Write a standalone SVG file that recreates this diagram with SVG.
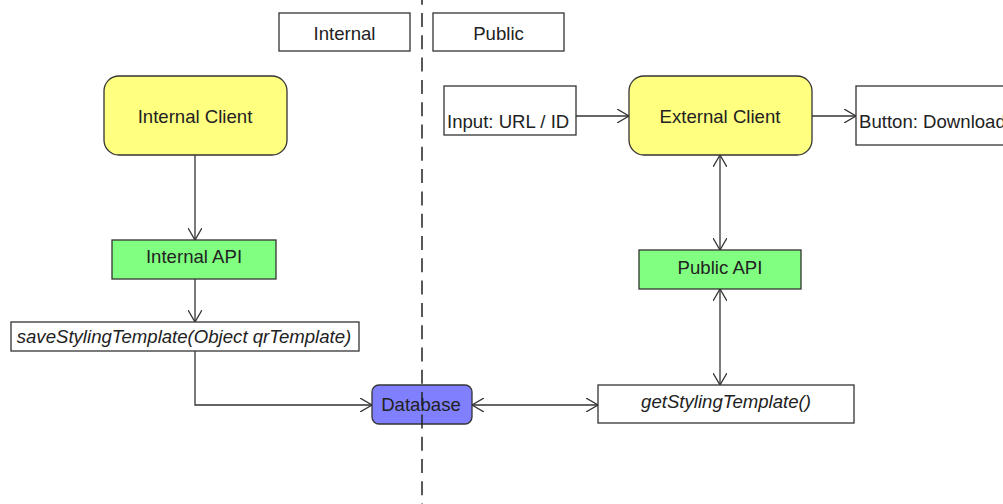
<svg xmlns="http://www.w3.org/2000/svg" width="1003" height="504" viewBox="0 0 1003 504">
<style>
.box{stroke:#333;stroke-width:1.3;}
.w{fill:#fff;}
.y{fill:#ffff80;}
.g{fill:#80ff80;}
.b{fill:#8080ff;}
text{font-family:"Liberation Sans",Arial,sans-serif;font-size:18.6px;fill:#222;}
.c{text-anchor:middle;}
.i{font-style:italic;}
.con{fill:none;stroke:#333;stroke-width:1.3;}
</style>
<defs>
<marker id="ah" viewBox="0 0 12 14" refX="12" refY="7" markerWidth="12" markerHeight="14" markerUnits="userSpaceOnUse" orient="auto-start-reverse">
<path d="M0,0 L12,7 L0,14" fill="none" stroke="#333" stroke-width="1.3"/>
</marker>
</defs>
<rect width="1003" height="504" fill="#fff"/>
<g id="label-internal"><rect class="box w" x="279" y="13" width="131" height="38"/><text class="c" x="344.5" y="40">Internal</text></g>
<g id="label-public"><rect class="box w" x="433" y="13" width="131" height="38"/><text class="c" x="498.5" y="40">Public</text></g>
<g id="internal-client"><rect class="box y" x="104" y="76" width="183" height="79" rx="15"/><text class="c" x="195" y="123">Internal Client</text></g>
<g id="external-client"><rect class="box y" x="629" y="76" width="183" height="79" rx="15"/><text class="c" x="720" y="123">External Client</text></g>
<g id="input"><rect class="box w" x="444" y="86" width="132" height="49"/><text x="447" y="128">Input: URL / ID</text></g>
<g id="button"><rect class="box w" x="856" y="86" width="160" height="59"/><text x="859" y="128">Button: Download</text></g>
<g id="internal-api"><rect class="box g" x="112" y="240" width="164" height="39"/><text class="c" x="194" y="263">Internal API</text></g>
<g id="public-api"><rect class="box g" x="639" y="250" width="162" height="39"/><text class="c" x="720" y="274">Public API</text></g>
<g id="save"><rect class="box w" x="11" y="322" width="348" height="29"/><text class="c i" x="184" y="343">saveStylingTemplate(Object qrTemplate)</text></g>
<g id="get"><rect class="box w" x="598" y="385" width="256" height="38"/><text class="c i" x="726" y="408">getStylingTemplate()</text></g>
<g id="database"><rect class="box b" x="372" y="385" width="100" height="39" rx="7"/><text class="c" x="421" y="411">Database</text></g>
<g id="connectors">
<path class="con" d="M195,155 V240" marker-end="url(#ah)"/>
<path class="con" d="M195,279 V322" marker-end="url(#ah)"/>
<path class="con" d="M195,351 V405 H372" marker-end="url(#ah)"/>
<path class="con" d="M472,405 H598" marker-start="url(#ah)" marker-end="url(#ah)"/>
<path class="con" d="M720,155 V250" marker-start="url(#ah)" marker-end="url(#ah)"/>
<path class="con" d="M720,289 V385" marker-start="url(#ah)" marker-end="url(#ah)"/>
<path class="con" d="M576,116 H629" marker-end="url(#ah)"/>
<path class="con" d="M812,116 H856" marker-end="url(#ah)"/>
</g>
<g id="divider"><line x1="422" y1="0" x2="422" y2="504" stroke="#222" stroke-width="1.5" stroke-dasharray="14 8.3" stroke-dashoffset="9.3"/></g>
</svg>
